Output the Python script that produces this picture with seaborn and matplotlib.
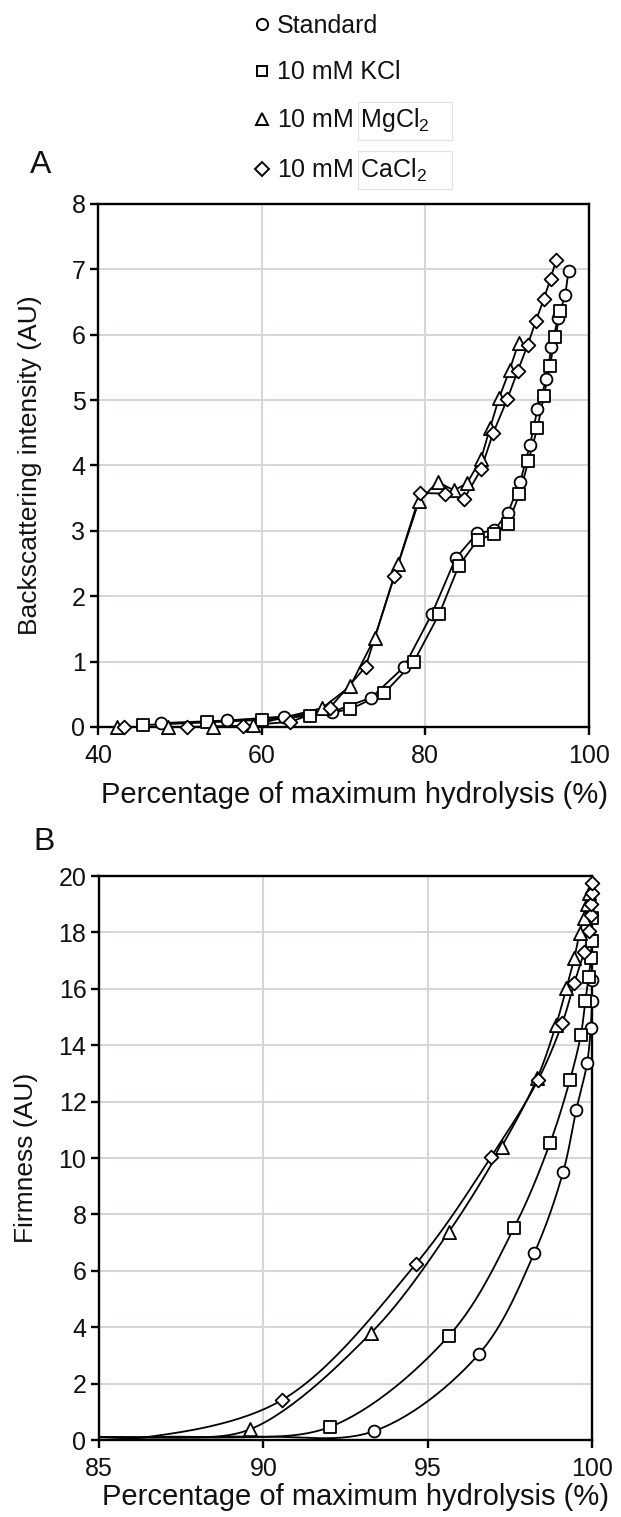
import numpy as np
import pandas as pd
import matplotlib
matplotlib.use('Agg')
import matplotlib.pyplot as plt
import seaborn as sns
from matplotlib.lines import Line2D
from matplotlib.patches import Rectangle

# ---- data ----
series = ['Standard', 'KCl', 'MgCl2', 'CaCl2']
legend_labels = ['Standard', '10 mM KCl', '10 mM MgCl$_2$', '10 mM CaCl$_2$']

# panel A: backscattering vs % of maximum hydrolysis
a_std_x = [47.7, 55.8, 62.7, 68.6, 73.4, 77.4, 80.8, 83.7, 86.3, 88.4, 90.1, 91.6, 92.8, 93.7, 94.8, 95.4, 96.2, 97.1, 97.5]
a_std_y = [0.06, 0.10, 0.16, 0.23, 0.45, 0.92, 1.73, 2.58, 2.96, 3.01, 3.28, 3.75, 4.32, 4.86, 5.33, 5.81, 6.25, 6.61, 6.98]
a_kcl_x = [45.5, 53.3, 60.0, 65.9, 70.8, 75.0, 78.6, 81.7, 84.1, 86.4, 88.4, 90.1, 91.5, 92.6, 93.7, 94.5, 95.2, 95.9, 96.5]
a_kcl_y = [0.03, 0.07, 0.11, 0.17, 0.27, 0.52, 1.00, 1.73, 2.47, 2.86, 2.95, 3.11, 3.56, 4.07, 4.58, 5.07, 5.52, 5.96, 6.37]
a_mg_x = [42.3, 48.6, 54.1, 59.0, 67.4, 70.8, 73.8, 76.7, 79.2, 81.5, 83.5, 85.1, 86.8, 87.9, 89.0, 90.3, 91.4]
a_mg_y = [0.00, 0.00, 0.00, 0.03, 0.29, 0.62, 1.36, 2.50, 3.45, 3.75, 3.62, 3.73, 4.10, 4.57, 5.03, 5.46, 5.88]
a_ca_x = [43.2, 50.9, 57.7, 63.5, 68.3, 72.7, 76.2, 79.4, 82.4, 84.7, 86.8, 88.3, 90.0, 91.3, 92.5, 93.5, 94.5, 95.3, 96.0]
a_ca_y = [0.00, 0.00, 0.02, 0.08, 0.29, 0.92, 2.31, 3.58, 3.57, 3.48, 3.94, 4.50, 5.01, 5.45, 5.84, 6.21, 6.55, 6.86, 7.14]

# panel B: firmness vs % of maximum hydrolysis (marked points)
b_std_x = [93.38, 96.56, 98.24, 99.12, 99.52, 99.85, 99.96, 100.0, 100.0]
b_std_y = [0.32, 3.05, 6.62, 9.50, 11.70, 13.36, 14.60, 15.55, 16.30]
b_kcl_x = [92.04, 95.65, 97.63, 98.72, 99.33, 99.66, 99.80, 99.90, 99.97, 99.99, 100.0]
b_kcl_y = [0.47, 3.70, 7.53, 10.52, 12.77, 14.36, 15.58, 16.43, 17.10, 17.70, 18.50]
b_mg_x = [89.60, 93.28, 95.65, 97.25, 98.33, 98.90, 99.22, 99.46, 99.62, 99.75, 99.85, 99.92]
b_mg_y = [0.38, 3.80, 7.39, 10.40, 12.82, 14.70, 16.02, 17.08, 17.97, 18.50, 19.00, 19.40]
b_ca_x = [90.57, 94.63, 96.92, 98.36, 99.10, 99.46, 99.76, 99.92, 99.96, 99.98, 99.99, 100.0]
b_ca_y = [1.42, 6.23, 10.02, 12.77, 14.80, 16.20, 17.30, 18.05, 18.60, 19.00, 19.40, 19.75]
# unmarked baseline readings where the curves run flat from the left edge
b_lead_x = {'Standard': [85.0, 90.0], 'KCl': [85.0, 88.5], 'MgCl2': [85.0, 87.0], 'CaCl2': [85.0, 86.5]}
b_lead_y = {'Standard': [0.10, 0.11], 'KCl': [0.10, 0.11], 'MgCl2': [0.10, 0.11], 'CaCl2': [0.10, 0.11]}

a_x = dict(zip(series, [a_std_x, a_kcl_x, a_mg_x, a_ca_x]))
a_y = dict(zip(series, [a_std_y, a_kcl_y, a_mg_y, a_ca_y]))
b_x = dict(zip(series, [b_std_x, b_kcl_x, b_mg_x, b_ca_x]))
b_y = dict(zip(series, [b_std_y, b_kcl_y, b_mg_y, b_ca_y]))

markers = {'Standard': 'o', 'KCl': 's', 'MgCl2': '^', 'CaCl2': 'D'}
msize = {'Standard': 8.5, 'KCl': 8.0, 'MgCl2': 9.5, 'CaCl2': 7.0}


def smooth(xs, ys, sx, sy, n=30):
    # centripetal catmull-rom through the points (like Excel's smoothed line)
    P = np.column_stack([np.asarray(xs) / sx, np.asarray(ys) / sy])
    P = np.vstack([2 * P[0] - P[1], P, 2 * P[-1] - P[-2]])
    out = []
    for i in range(1, len(P) - 2):
        p0, p1, p2, p3 = P[i - 1:i + 3]
        t0 = 0.0
        t1 = t0 + max(np.linalg.norm(p1 - p0), 1e-6) ** 0.5
        t2 = t1 + max(np.linalg.norm(p2 - p1), 1e-6) ** 0.5
        t3 = t2 + max(np.linalg.norm(p3 - p2), 1e-6) ** 0.5
        t = np.linspace(t1, t2, n)[:, None]
        a1 = (t1 - t) / (t1 - t0) * p0 + (t - t0) / (t1 - t0) * p1
        a2 = (t2 - t) / (t2 - t1) * p1 + (t - t1) / (t2 - t1) * p2
        a3 = (t3 - t) / (t3 - t2) * p2 + (t - t2) / (t3 - t2) * p3
        b1 = (t2 - t) / (t2 - t0) * a1 + (t - t0) / (t2 - t0) * a2
        b2 = (t3 - t) / (t3 - t1) * a2 + (t - t1) / (t3 - t1) * a3
        out.append((t2 - t) / (t2 - t1) * b1 + (t - t1) / (t2 - t1) * b2)
    C = np.vstack(out)
    return C[:, 0] * sx, C[:, 1] * sy


sns.set_theme(style='white')
plt.rcParams['font.family'] = ['Liberation Sans', 'DejaVu Sans']
plt.rcParams['mathtext.fontset'] = 'custom'
plt.rcParams['mathtext.rm'] = 'Liberation Sans'
plt.rcParams['mathtext.default'] = 'regular'

W, H = 621, 1517
ink = '#111111'
fig = plt.figure(figsize=(W / 100, H / 100), dpi=100)
axA = fig.add_axes([98 / W, 1 - 727 / H, 491 / W, 523 / H])
axB = fig.add_axes([99 / W, 1 - 1440 / H, 493 / W, 564 / H])


def style_axes(ax, xlim, xticks, ylim, yticks, ylabel, ylab_x, xlab_xy):
    ax.set_xlim(xlim)
    ax.set_ylim(ylim)
    ax.set_xticks(xticks)
    ax.set_yticks(yticks)
    ax.grid(True, color='#d8d4d4', lw=1.4)
    ax.set_axisbelow(True)
    for sp in ax.spines.values():
        sp.set_visible(True)
        sp.set_color('black')
        sp.set_linewidth(1.7)
    ax.tick_params(axis='both', direction='out', length=6, width=1.7, color='black',
                   labelsize=18, labelcolor=ink, left=True, bottom=True)
    ax.tick_params(axis='x', pad=6)
    ax.tick_params(axis='y', pad=3)
    ax.set_xlabel('Percentage of maximum hydrolysis (%)', fontsize=21, color=ink)
    ax.xaxis.set_label_coords(*xlab_xy)
    ax.set_ylabel(ylabel, fontsize=19, color=ink)
    ax.yaxis.set_label_coords(ylab_x, 0.5)


# panel A
for s in series:
    sns.lineplot(x=a_x[s], y=a_y[s], sort=False, estimator=None, color='black', lw=1.3, ax=axA)
    sns.scatterplot(x=a_x[s], y=a_y[s], marker=markers[s], s=msize[s] ** 2, color='white',
                    edgecolor='black', linewidth=1.3, clip_on=False, zorder=3, ax=axA)
style_axes(axA, (40, 100), [40, 60, 80, 100], (0, 8), range(0, 9),
           'Backscattering intensity (AU)', -0.114, (0.523, -0.104))

# panel B
sx, sy = 15 / 493, 20 / 564
for s in series:
    cx, cy = smooth(b_lead_x[s] + b_x[s], b_lead_y[s] + b_y[s], sx, sy)
    sns.lineplot(x=cx, y=cy, sort=False, estimator=None, color='black', lw=1.3, ax=axB)
    sns.scatterplot(x=b_x[s], y=b_y[s], marker=markers[s], s=msize[s] ** 2, color='white',
                    edgecolor='black', linewidth=1.3, clip_on=False, zorder=3, ax=axB)
style_axes(axB, (85, 100), [85, 90, 95, 100], (0, 20), range(0, 21, 2),
           'Firmness (AU)', -0.124, (0.521, -0.0754))

fig.text(41 / W, 1 - 165 / H, 'A', fontsize=23, ha='center', va='center', color=ink)
fig.text(44 / W, 1 - 842 / H, 'B', fontsize=23, ha='center', va='center', color=ink)

handles = [Line2D([], [], ls='none', marker=markers[s], ms=msize[s] * 0.95, mfc='white',
                  mec='black', mew=1.4) for s in series]
leg = fig.legend(handles, legend_labels, loc='upper left', bbox_to_anchor=(252 / W, 1 - 14 / H),
                 frameon=False, fontsize=18, handlelength=0.8, handletextpad=0.2,
                 labelspacing=0.89, borderpad=0, borderaxespad=0)
for t in leg.get_texts():
    t.set_color(ink)

# faint text-box outlines around the salt names (as in the original)
fig.canvas.draw()
rend = fig.canvas.get_renderer()
probe = fig.text(0, 0, '10 mM ', fontsize=18)
pre_w = probe.get_window_extent(rend).width
probe.remove()
for t in leg.get_texts()[2:]:
    bb = t.get_window_extent(rend)
    cy_ = (bb.y0 + bb.y1) / 2
    x0 = bb.x0 + pre_w - 2
    fig.patches.append(Rectangle((x0 / W, (cy_ - 19) / H), (452 - x0) / W, 38 / H,
                                 transform=fig.transFigure, fill=False, ec='#e2e2e2', lw=0.8))

fig.savefig('out.png', dpi=100)
